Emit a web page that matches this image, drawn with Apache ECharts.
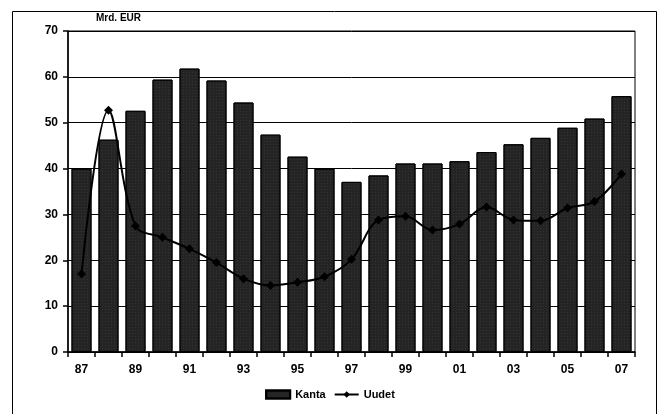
<!DOCTYPE html>
<html><head><meta charset="utf-8">
<script src="https://cdn.jsdelivr.net/npm/echarts@6/dist/echarts.min.js"></script>
<style>html,body{margin:0;padding:0;background:#fff}#c{width:660px;height:414px}</style>
</head><body><div id="c"></div>
<script>
const years = ['87','88','89','90','91','92','93','94','95','96','97','98','99','00','01','02','03','04','05','06','07'];
const kanta = [40,46.3,52.6,59.4,61.8,59.2,54.4,47.4,42.6,40,37.1,38.5,41.1,41.1,41.6,43.6,45.3,46.7,48.9,50.9,55.8];
const uudet = [17,52.7,27.5,25,22.5,19.5,16,14.5,15.2,16.4,20.2,28.8,29.6,26.6,27.9,31.6,28.8,28.6,31.4,32.8,38.8];
const yTicks = [0,10,20,30,40,50,60,70];
const unitLabel = 'Mrd. EUR';
const seriesNames = ['Kanta','Uudet'];

const F = 'Liberation Sans';
const chart = echarts.init(document.getElementById('c'), null, {renderer:'canvas'});
chart.setOption({
  animation:false,
  backgroundColor:'#fff',
  textStyle:{fontFamily:F},
  grid:{left:68,right:25,top:31,bottom:62,show:true,borderColor:'#000',borderWidth:1,backgroundColor:'transparent'},
  xAxis:{type:'category',data:years,boundaryGap:true,
    axisLine:{lineStyle:{color:'#000',width:1.5}},
    axisTick:{show:true,alignWithLabel:false,interval:0,length:5,lineStyle:{color:'#000',width:1.5}},
    axisLabel:{interval:1,color:'#000',fontWeight:'bold',fontSize:12,margin:12,fontFamily:F},
    splitLine:{show:false}},
  yAxis:{type:'value',min:yTicks[0],max:yTicks[yTicks.length-1],interval:10,
    axisLine:{show:true,lineStyle:{color:'#000',width:1.5}},
    axisTick:{show:true,length:5,lineStyle:{color:'#000',width:1.5}},
    axisLabel:{color:'#000',fontWeight:'bold',fontSize:12,margin:10,fontFamily:F},
    splitLine:{show:true,lineStyle:{color:'#000',width:1}}},
  legend:{bottom:9,left:'center',itemGap:8,itemWidth:24,itemHeight:8,
    textStyle:{color:'#000',fontWeight:'bold',fontSize:11,fontFamily:F},
    data:[{name:seriesNames[0],icon:'rect'},{name:seriesNames[1]}]},
  graphic:[
    {type:'rect',shape:{x:12.5,y:11.5,width:644,height:420},style:{fill:'none',stroke:'#000',lineWidth:1},silent:true},
    {type:'text',left:96,top:13,style:{text:unitLabel,fontFamily:F,fontWeight:'bold',fontSize:10,fill:'#000'}}
  ],
  series:[
    {name:seriesNames[0],type:'bar',data:kanta,barWidth:20,
      itemStyle:{color:'#242424',borderColor:'#000',borderWidth:1,
        decal:{symbol:'rect',symbolSize:0.5,dashArrayX:[1,2],dashArrayY:[1,2],color:'rgba(170,170,170,0.5)',rotation:0}},
      z:2},
    {name:seriesNames[1],type:'line',data:uudet,smooth:0.35,symbol:'diamond',symbolSize:9,
      lineStyle:{color:'#000',width:2},itemStyle:{color:'#000'},z:3}
  ]
});
</script></body></html>
